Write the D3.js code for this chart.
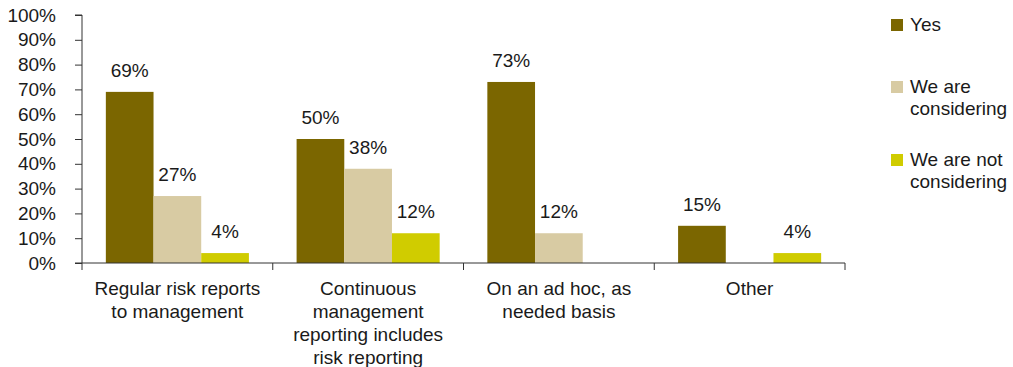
<!DOCTYPE html>
<html>
<head>
<meta charset="utf-8">
<script src="https://cdn.jsdelivr.net/npm/d3@7"></script>
<style>
  html, body { margin: 0; padding: 0; background: #fff; }
  svg { display: block; font-family: "Liberation Sans", Arial, Helvetica, sans-serif; }
</style>
</head>
<body>
<svg id="chart" width="1013" height="367"></svg>
<script>
// Survey responses by reporting approach (percent of respondents)
const categories = ["regular", "continuous", "adhoc", "other"];
const categoryLabels = [
  ["Regular risk reports", "to management"],
  ["Continuous", "management", "reporting includes", "risk reporting"],
  ["On an ad hoc, as", "needed basis"],
  ["Other"]
];
const seriesNames = ["Yes", "We are considering", "We are not considering"];
const legendLabels = [["Yes"], ["We are", "considering"], ["We are not", "considering"]];
const seriesColors = ["#7b6600", "#d8cba3", "#d0cc00"];
const yesValues = [69, 50, 73, 15];
const consideringValues = [27, 38, 12, 0];
const notConsideringValues = [4, 12, 0, 4];
const yTicks = [0, 10, 20, 30, 40, 50, 60, 70, 80, 90, 100];

const seriesValues = [yesValues, consideringValues, notConsideringValues];

const svg = d3.select("#chart");
const textColor = "#1a1a1a";
const axisColor = "#333";
const fontSize = 19;

const plot = { left: 82, right: 845, top: 15, bottom: 263 };

const y = d3.scaleLinear().domain([0, 100]).range([plot.bottom, plot.top]);
const x0 = d3.scaleBand().domain(categories).range([plot.left, plot.right]).padding(0);
const bw = x0.bandwidth();
const x1 = d3.scaleBand().domain(seriesNames)
  .range([bw * 0.125, bw * 0.875]).padding(0);

// Y axis
const yAxis = d3.axisLeft(y).tickValues(yTicks).tickSize(7).tickPadding(19)
  .tickFormat(d => d + "%");
const gy = svg.append("g").attr("transform", `translate(${plot.left},0)`).call(yAxis);
gy.select(".domain").attr("stroke", axisColor).attr("d", `M-7,${plot.top}H0V${plot.bottom}`);
gy.selectAll(".tick line").attr("stroke", axisColor);
gy.selectAll(".tick text").attr("fill", textColor).style("font-size", fontSize + "px")
  .style("font-family", "'Liberation Sans', Arial, sans-serif");

// Bars
const groups = svg.append("g").selectAll("g")
  .data(categories)
  .join("g")
  .attr("transform", d => `translate(${x0(d)},0)`);

groups.each(function(cat, ci) {
  const g = d3.select(this);
  const rows = seriesNames.map((s, si) => ({ s, si, v: seriesValues[si][ci] }))
    .filter(r => r.v > 0);
  g.selectAll("rect").data(rows).join("rect")
    .attr("x", r => x1(r.s))
    .attr("width", x1.bandwidth())
    .attr("y", r => y(r.v))
    .attr("height", r => y(0) - y(r.v))
    .attr("fill", r => seriesColors[r.si]);
  g.selectAll("text").data(rows).join("text")
    .attr("x", r => x1(r.s) + x1.bandwidth() / 2)
    .attr("y", r => y(r.v) - 15)
    .attr("text-anchor", "middle")
    .attr("fill", textColor)
    .style("font-size", fontSize + "px")
    .text(r => r.v + "%");
});

// X axis with ticks at category boundaries
const gx = svg.append("g");
gx.append("line")
  .attr("x1", plot.left - 7).attr("x2", plot.right)
  .attr("y1", y(0)).attr("y2", y(0))
  .attr("stroke", axisColor);
const bounds = categories.map(c => x0(c)).concat([x0.range()[1]]);
gx.selectAll(".xt").data(bounds).join("line")
  .attr("class", "xt")
  .attr("x1", d => d).attr("x2", d => d)
  .attr("y1", y(0)).attr("y2", y(0) + 7)
  .attr("stroke", axisColor);

// Category labels
const catText = svg.append("g").selectAll("text")
  .data(categories)
  .join("text")
  .attr("text-anchor", "middle")
  .attr("fill", textColor)
  .style("font-size", fontSize + "px");
catText.each(function(c, i) {
  d3.select(this).selectAll("tspan").data(categoryLabels[i]).join("tspan")
    .attr("x", x0(c) + bw / 2)
    .attr("y", (d, j) => 295 + j * 23)
    .text(d => d);
});

// Legend
const legendTop = [19, 81, 154];
const legend = svg.append("g").selectAll("g")
  .data(seriesNames)
  .join("g")
  .attr("transform", (d, i) => `translate(891,${legendTop[i]})`);
legend.append("rect")
  .attr("width", 12).attr("height", 12)
  .attr("fill", (d, i) => seriesColors[i]);
legend.append("text")
  .attr("fill", textColor)
  .style("font-size", fontSize + "px")
  .each(function(d, i) {
    d3.select(this).selectAll("tspan").data(legendLabels[i]).join("tspan")
      .attr("x", 19)
      .attr("y", (t, j) => 12 + j * 22)
      .text(t => t);
  });
</script>
</body>
</html>
